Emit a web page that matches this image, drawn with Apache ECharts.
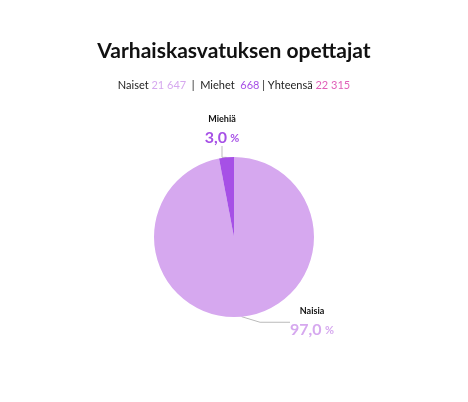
<!DOCTYPE html>
<html><head><meta charset="utf-8">
<script src="https://cdn.jsdelivr.net/npm/echarts@6/dist/echarts.min.js"></script>
<style>html,body{margin:0;background:#fff}#c{width:468px;height:402px}</style>
</head><body><div id="c"></div>
<script>
var categories = ["Naisia", "Miehiä"];
var shares = [97.0, 3.0];
var counts = { naiset: "21 647", miehet: "668", yhteensa: "22 315" };
var colors = ["#d6a8ef", "#a650e6"];
var labelPos = [[312, 322], [222, 130]];

var chart = echarts.init(document.getElementById("c"));
chart.setOption({
  title: {
    text: "Varhaiskasvatuksen opettajat",
    subtext: "Naiset {a|" + counts.naiset + "}  |  Miehet  {b|" + counts.miehet + "} | Yhteensä {c|" + counts.yhteensa + "}",
    left: "center", top: 36, itemGap: 18,
    textStyle: { fontFamily: "Lato", fontSize: 21, fontWeight: "bold", color: "#111" },
    subtextStyle: { fontFamily: "Lato", fontSize: 11, color: "#222",
      rich: { a: { color: "#d6a8ef", fontSize: 11 }, b: { color: "#a650e6", fontSize: 11 }, c: { color: "#e060b8", fontSize: 11 } } }
  },
  series: [{
    type: "pie", center: [234, 237], radius: 80, startAngle: 90, clockwise: true,
    silent: true,
    data: categories.map(function (n, i) {
      return { name: n, value: shares[i], itemStyle: { color: colors[i] },
        label: { rich: { v: { color: colors[i], fontSize: 16, fontWeight: "bold", fontFamily: "Lato", lineHeight: 22 },
                         p: { color: colors[i], fontSize: 11, fontWeight: "bold", fontFamily: "Lato" },
                         n: { color: "#111", fontSize: 9, fontWeight: "bold", fontFamily: "Lato", lineHeight: 16 } } } };
    }),
    label: { position: "outside", align: "center",
      formatter: function (p) { return "{n|" + p.name + "}\n{v|" + p.value.toFixed(1).replace(".", ",") + "} {p|%}"; } },
    labelLine: { show: true, lineStyle: { color: "#bbb", width: 1 } },
    labelLayout: function (p) {
      var pos = labelPos[p.dataIndex];
      return { x: pos[0], y: pos[1], align: "center", verticalAlign: "middle" };
    }
  }]
});
</script></body></html>
